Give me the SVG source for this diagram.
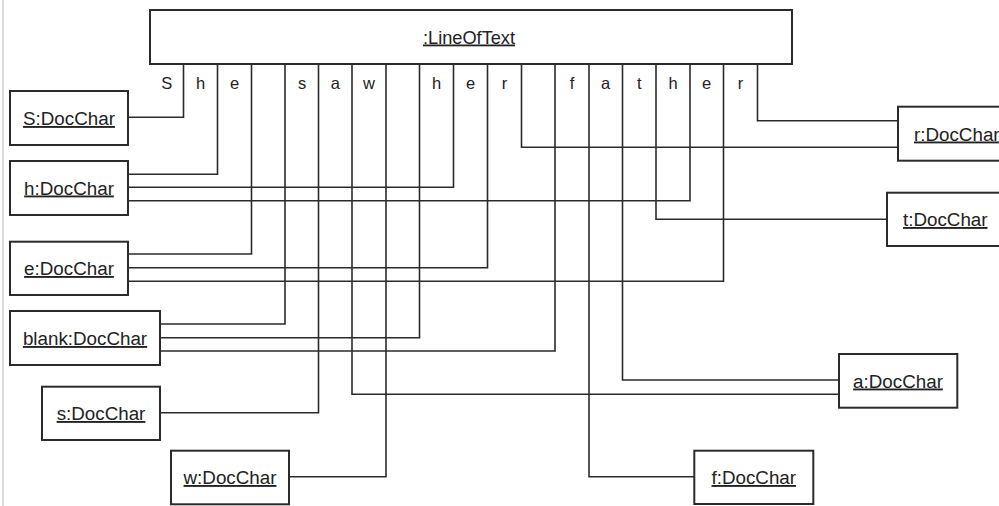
<svg xmlns="http://www.w3.org/2000/svg" width="999" height="506" viewBox="0 0 999 506">
<style>
.box{fill:#fff;stroke:#2b2b2b;stroke-width:2}
.lbl{font-family:"Liberation Sans",Arial,sans-serif;font-size:18.8px;fill:#222;text-anchor:middle;text-decoration:underline}
.ch{font-family:"Liberation Sans",Arial,sans-serif;font-size:16.5px;fill:#222;text-anchor:middle}
.conn path{fill:none;stroke:#2b2b2b;stroke-width:1.6}
</style>
<rect width="999" height="506" fill="#fff"/>
<line x1="3" y1="0" x2="3" y2="506" stroke="#dcdcdc" stroke-width="2"/>
<g id="lineOfText">
<rect class="box" x="150" y="10" width="642" height="54"/>
<text class="lbl" x="469" y="43.5" style="font-size:18.2px">:LineOfText</text>
<g id="chars">
<text class="ch" x="166.7" y="89">S</text>
<text class="ch" x="200.5" y="89">h</text>
<text class="ch" x="234.5" y="89">e</text>
<text class="ch" x="302" y="89">s</text>
<text class="ch" x="335.3" y="89">a</text>
<text class="ch" x="369" y="89">w</text>
<text class="ch" x="436.5" y="89">h</text>
<text class="ch" x="470.5" y="89">e</text>
<text class="ch" x="504.5" y="89">r</text>
<text class="ch" x="572" y="89">f</text>
<text class="ch" x="605.7" y="89">a</text>
<text class="ch" x="639.2" y="89">t</text>
<text class="ch" x="673" y="89">h</text>
<text class="ch" x="706.7" y="89">e</text>
<text class="ch" x="740.5" y="89">r</text>
</g>
</g>
<g class="conn" id="connectors">
<path d="M183.5 64V117.3H128"/>
<path d="M217.5 64V174.3H128"/>
<path d="M251.5 64V254H128"/>
<path d="M285 64V324H160"/>
<path d="M318.5 64V412.7H160"/>
<path d="M352 64V394.3H839"/>
<path d="M386 64V476.7H289"/>
<path d="M419.5 64V337.7H160"/>
<path d="M453.5 64V187.3H128"/>
<path d="M487.5 64V267.7H128"/>
<path d="M521.5 64V147.3H898"/>
<path d="M555 64V351H160"/>
<path d="M589 64V476.7H694"/>
<path d="M622.5 64V380H839"/>
<path d="M656 64V219.3H887"/>
<path d="M690 64V200.7H128"/>
<path d="M723.5 64V281.3H128"/>
<path d="M757.5 64V120.7H898"/>
</g>
<g id="S"><rect class="box" x="10" y="91" width="118" height="54"/><text class="lbl" x="69" y="125">S:DocChar</text></g>
<g id="h"><rect class="box" x="10" y="161" width="118" height="54"/><text class="lbl" x="69" y="194.5">h:DocChar</text></g>
<g id="e"><rect class="box" x="10" y="241.7" width="118" height="53.3"/><text class="lbl" x="69" y="275">e:DocChar</text></g>
<g id="blank"><rect class="box" x="10" y="311" width="150" height="54"/><text class="lbl" x="85" y="345">blank:DocChar</text></g>
<g id="s"><rect class="box" x="42" y="386.7" width="118" height="53.3"/><text class="lbl" x="101" y="420">s:DocChar</text></g>
<g id="w"><rect class="box" x="171" y="450.7" width="118" height="53.6"/><text class="lbl" x="230" y="484">w:DocChar</text></g>
<g id="r"><rect class="box" x="898" y="106.7" width="130" height="54"/><text class="lbl" x="914" y="140.5" style="text-anchor:start">r:DocChar</text></g>
<g id="t"><rect class="box" x="887" y="192.7" width="130" height="53.3"/><text class="lbl" x="903" y="226" style="text-anchor:start">t:DocChar</text></g>
<g id="a"><rect class="box" x="839" y="354" width="118.3" height="53.7"/><text class="lbl" x="898" y="387.5">a:DocChar</text></g>
<g id="f"><rect class="box" x="694.3" y="450.7" width="119" height="53.3"/><text class="lbl" x="753.8" y="484">f:DocChar</text></g>
</svg>
